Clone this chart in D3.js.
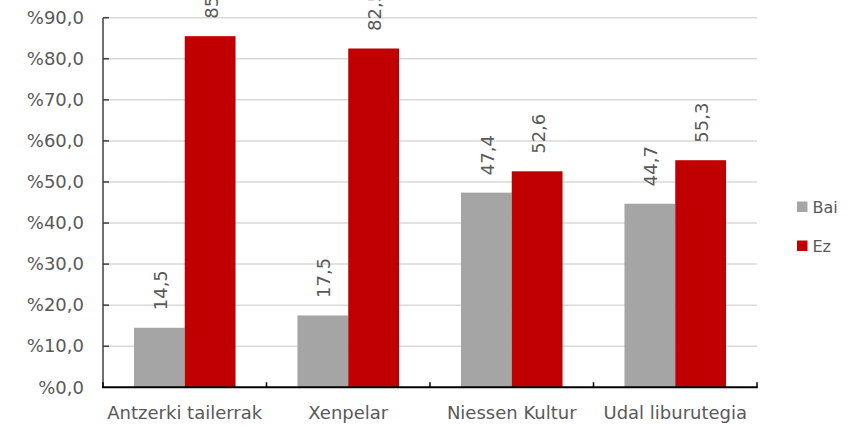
<!DOCTYPE html>
<html>
<head>
<meta charset="utf-8">
<script src="https://cdn.jsdelivr.net/npm/d3@7"></script>
<style>
  html, body { margin: 0; padding: 0; background: #ffffff; }
  svg { display: block; font-family: "DejaVu Sans", Verdana, sans-serif; }
</style>
</head>
<body>
<div id="chart"></div>
<script>
// chart data
const categories = ['Antzerki tailerrak', 'Xenpelar', 'Niessen Kultur', 'Udal liburutegia'];
const seriesNames = ['Bai', 'Ez'];
const baiValues = [14.5, 17.5, 47.4, 44.7];
const ezValues = [85.5, 82.5, 52.6, 55.3];
const yTicks = [0, 10, 20, 30, 40, 50, 60, 70, 80, 90];

const colors = { Bai: '#a5a5a5', Ez: '#c00000' };
const textColor = '#595959';

const width = 852, height = 428;
const plot = { left: 103, right: 757, top: 17.7, bottom: 387.3 };

const fmt = v => v.toFixed(1).replace('.', ',');

const svg = d3.select('#chart').append('svg')
    .attr('width', width)
    .attr('height', height);

// scales
const x0 = d3.scaleBand()
    .domain(categories)
    .range([plot.left, plot.right])
    .paddingInner(0)
    .paddingOuter(0);

const x1 = d3.scaleBand()
    .domain(seriesNames)
    .range([0, x0.bandwidth()])
    .paddingInner(0)
    .paddingOuter(0.61);

const y = d3.scaleLinear()
    .domain([0, 90])
    .range([plot.bottom, plot.top]);

// gridlines
svg.append('g').attr('class', 'grid')
    .selectAll('line')
    .data(yTicks.filter(d => d > 0))
    .enter().append('line')
    .attr('x1', plot.left)
    .attr('x2', plot.right)
    .attr('y1', d => y(d))
    .attr('y2', d => y(d))
    .attr('stroke', '#d9d9d9')
    .attr('stroke-width', 1.5);

// bars
const rows = categories.map((c, i) => ({ cat: c, values: [
    { key: 'Bai', value: baiValues[i] },
    { key: 'Ez', value: ezValues[i] }
] }));

const groups = svg.append('g').attr('class', 'bars')
    .selectAll('g')
    .data(rows)
    .enter().append('g')
    .attr('transform', d => `translate(${x0(d.cat)},0)`);

groups.selectAll('rect')
    .data(d => d.values)
    .enter().append('rect')
    .attr('x', d => x1(d.key))
    .attr('y', d => y(d.value))
    .attr('width', x1.bandwidth())
    .attr('height', d => y(0) - y(d.value))
    .attr('fill', d => colors[d.key]);

// data labels (rotated)
groups.selectAll('text')
    .data(d => d.values)
    .enter().append('text')
    .attr('transform', d => `translate(${x1(d.key) + x1.bandwidth() / 2 + 1},${y(d.value) - 17.5}) rotate(-90)`)
    .attr('dy', '0.36em')
    .attr('text-anchor', 'start')
    .attr('font-size', '18px')
    .attr('fill', textColor)
    .text(d => fmt(d.value));

// y axis labels
const yAxis = svg.append('g')
    .attr('transform', `translate(${plot.left},0)`)
    .call(d3.axisLeft(y).tickValues(yTicks).tickSize(0).tickPadding(19)
        .tickFormat(d => '%' + fmt(d)));
yAxis.select('.domain').remove();
yAxis.selectAll('text')
    .attr('font-family', '"DejaVu Sans", Verdana, sans-serif')
    .attr('font-size', '18px')
    .attr('fill', textColor);

// y axis line + inner ticks
svg.append('g').selectAll('line')
    .data(yTicks.filter(d => d > 0))
    .enter().append('line')
    .attr('x1', plot.left)
    .attr('x2', plot.left + 6)
    .attr('y1', d => y(d))
    .attr('y2', d => y(d))
    .attr('stroke', '#404040')
    .attr('stroke-width', 1.5);

svg.append('line')
    .attr('x1', plot.left).attr('x2', plot.left)
    .attr('y1', plot.top).attr('y2', plot.bottom)
    .attr('stroke', '#404040')
    .attr('stroke-width', 1.5);

// x axis line + ticks at category boundaries
const boundaries = categories.map(c => x0(c)).concat([plot.right]);
svg.append('g').selectAll('line')
    .data(boundaries)
    .enter().append('line')
    .attr('x1', d => d).attr('x2', d => d)
    .attr('y1', plot.bottom - 5).attr('y2', plot.bottom)
    .attr('stroke', '#000')
    .attr('stroke-width', 1.5);

svg.append('line')
    .attr('x1', plot.left - 1).attr('x2', plot.right + 0.75)
    .attr('y1', plot.bottom).attr('y2', plot.bottom)
    .attr('stroke', '#000')
    .attr('stroke-width', 2);

// category labels
svg.append('g').selectAll('text')
    .data(categories)
    .enter().append('text')
    .attr('x', d => x0(d) + x0.bandwidth() / 2)
    .attr('y', 419)
    .attr('text-anchor', 'middle')
    .attr('font-size', '18px')
    .attr('fill', textColor)
    .text(d => d);

// legend
const legend = svg.append('g').attr('class', 'legend')
    .selectAll('g')
    .data(seriesNames)
    .enter().append('g')
    .attr('transform', (d, i) => `translate(797,${201.5 + i * 39})`);

legend.append('rect')
    .attr('width', 10.5)
    .attr('height', 10.5)
    .attr('fill', d => colors[d]);

legend.append('text')
    .attr('x', 15.5)
    .attr('y', 11.5)
    .attr('font-size', '16px')
    .attr('fill', textColor)
    .text(d => d);
</script>
</body>
</html>
